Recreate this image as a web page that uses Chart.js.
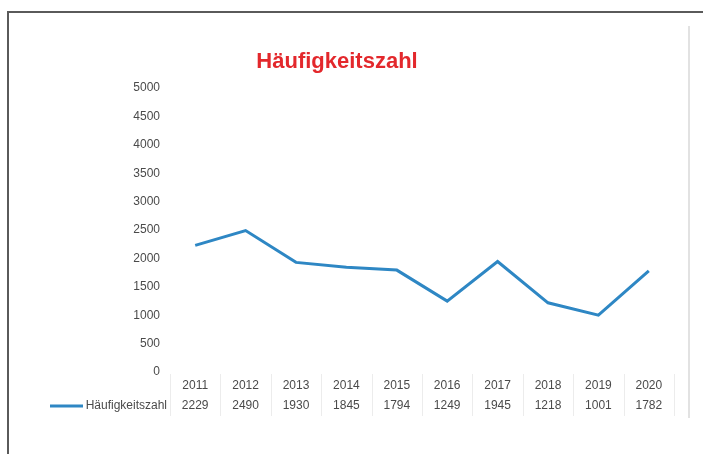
<!DOCTYPE html>
<html>
<head>
<meta charset="utf-8">
<script src="https://cdn.jsdelivr.net/npm/chart.js@4.4.0/dist/chart.umd.min.js"></script>
<style>
  html, body { margin: 0; padding: 0; background: #fff; }
  #wrap { width: 703px; height: 454px; position: relative; }
</style>
</head>
<body>
<div id="wrap"><canvas id="line-chart"></canvas></div>
<script>
var years = ["2011", "2012", "2013", "2014", "2015", "2016", "2017", "2018", "2019", "2020"];
var haeufigkeit = [2229, 2490, 1930, 1845, 1794, 1249, 1945, 1218, 1001, 1782];
var seriesName = "Häufigkeitszahl";
var yTicks = [0, 500, 1000, 1500, 2000, 2500, 3000, 3500, 4000, 4500, 5000];

var lineColor = "#2e87c4";
var textColor = "#4a4a4a";

// frame, data table grid and legend key
var tablePlugin = {
    id: "table",
    beforeDraw: function(chart) {
        var ctx = chart.ctx;
        ctx.save();
        ctx.fillStyle = "#fff";
        ctx.fillRect(0, 0, chart.width, chart.height);
        ctx.strokeStyle = "#5a5a5a";
        ctx.lineWidth = 2;
        ctx.beginPath();
        ctx.moveTo(8, chart.height);
        ctx.lineTo(8, 12);
        ctx.lineTo(chart.width, 12);
        ctx.stroke();
        ctx.strokeStyle = "#e2e2e2";
        ctx.beginPath();
        ctx.moveTo(689, 26);
        ctx.lineTo(689, 418);
        ctx.stroke();
        ctx.restore();
    },
    afterDraw: function(chart) {
        var ctx = chart.ctx, area = chart.chartArea;
        var step = (area.right - area.left) / years.length;
        ctx.save();
        ctx.strokeStyle = "#ececec";
        ctx.lineWidth = 1;
        for (var i = 0; i <= years.length; i++) {
            var px = Math.round(area.left + i * step) + 0.5;
            ctx.beginPath();
            ctx.moveTo(px, area.bottom + 2);
            ctx.lineTo(px, area.bottom + 44);
            ctx.stroke();
        }
        var ry = area.bottom + 34;
        ctx.strokeStyle = lineColor;
        ctx.lineWidth = 3;
        ctx.beginPath();
        ctx.moveTo(50, ry);
        ctx.lineTo(83, ry);
        ctx.stroke();
        ctx.fillStyle = textColor;
        ctx.font = "12px 'Liberation Sans', Arial, sans-serif";
        ctx.textBaseline = "middle";
        ctx.textAlign = "right";
        ctx.fillText(seriesName, area.left - 3, ry);
        ctx.restore();
    }
};

new Chart(document.getElementById("line-chart"), {
    type: "line",
    data: {
        labels: years,
        datasets: [{
            label: seriesName,
            data: haeufigkeit,
            borderColor: lineColor,
            borderWidth: 3,
            pointRadius: 0,
            tension: 0,
            fill: false
        }]
    },
    options: {
        responsive: true,
        maintainAspectRatio: false,
        animation: false,
        layout: { padding: { top: 49, right: 29, bottom: 0, left: 0 } },
        plugins: {
            legend: { display: false },
            tooltip: { enabled: false },
            title: {
                display: true,
                text: seriesName,
                color: "#e3282c",
                font: { family: "'Liberation Sans', Arial, sans-serif", size: 22, weight: "bold" },
                padding: { top: 0, bottom: 12.6 }
            }
        },
        scales: {
            x: {
                offset: true,
                grid: { display: false, drawTicks: false },
                border: { display: false },
                ticks: {
                    color: textColor,
                    padding: 4,
                    maxRotation: 0,
                    autoSkip: false,
                    font: { family: "'Liberation Sans', Arial, sans-serif", size: 12, lineHeight: 1.6667 },
                    callback: function(v, i) { return [years[i], String(haeufigkeit[i])]; }
                },
                afterFit: function(s) { s.height = 82; }
            },
            y: {
                min: 0,
                max: 5000,
                grid: { display: false, drawTicks: false },
                border: { display: false },
                afterBuildTicks: function(s) { s.ticks = yTicks.map(function(v) { return { value: v }; }); },
                ticks: {
                    color: textColor,
                    padding: 10,
                    font: { family: "'Liberation Sans', Arial, sans-serif", size: 12 },
                    callback: function(v) { return String(v); }
                },
                afterFit: function(s) { s.width = 170; }
            }
        }
    },
    plugins: [tablePlugin]
});
</script>
</body>
</html>
